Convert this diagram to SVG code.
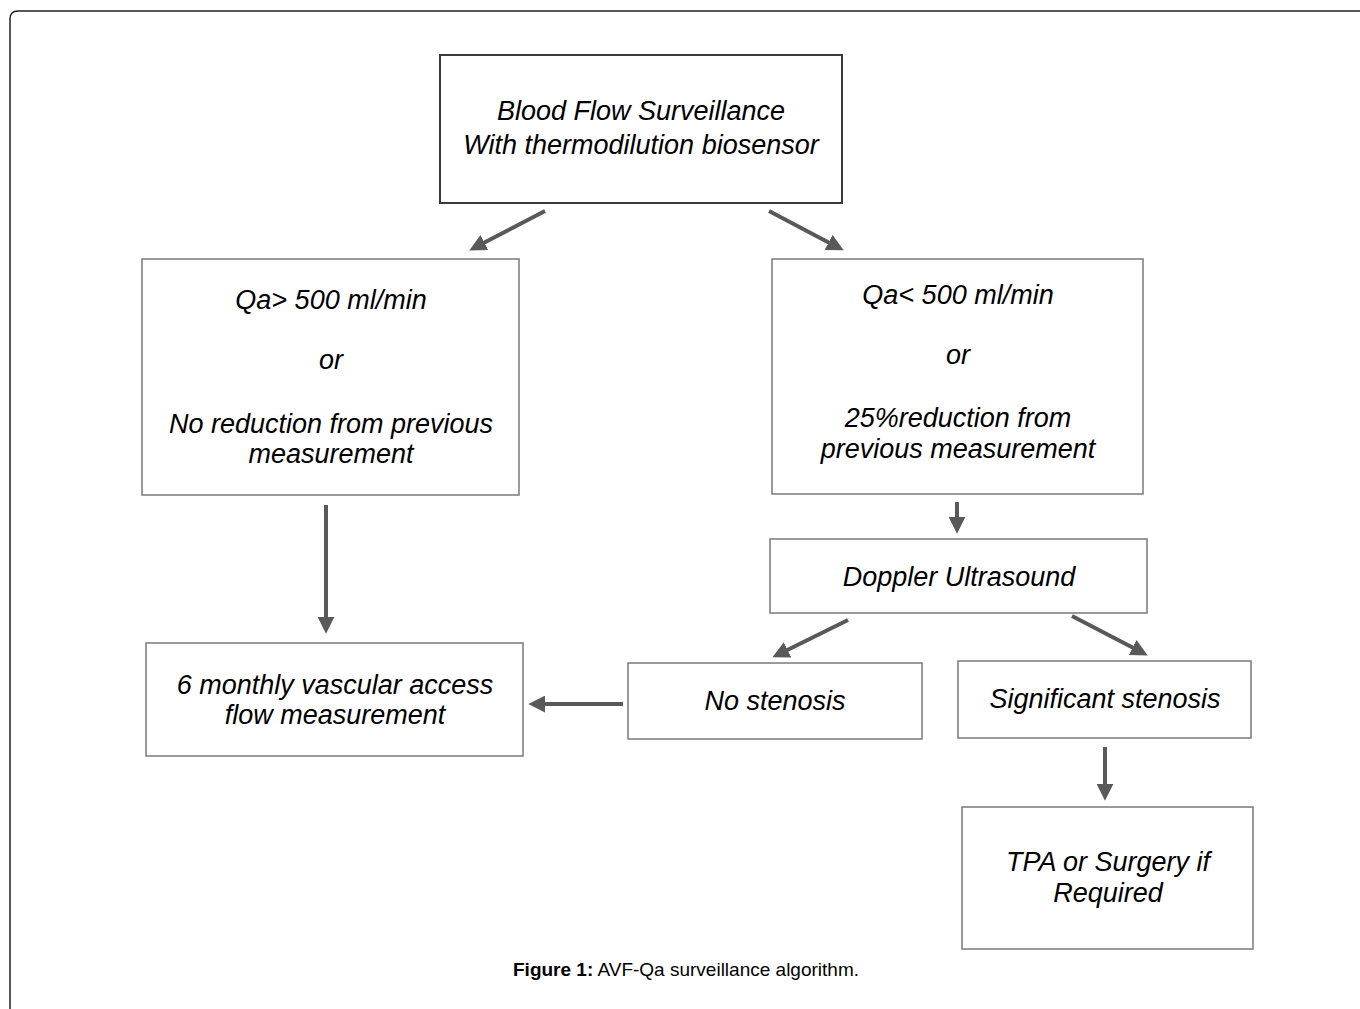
<svg xmlns="http://www.w3.org/2000/svg" width="1360" height="1009" viewBox="0 0 1360 1009">
<defs>
<style>
.box{fill:#fff;stroke:#7a7a7a;stroke-width:1.5}
.top{fill:#fff;stroke:#3a3a3a;stroke-width:2}
.t{font-family:"Liberation Sans",Arial,sans-serif;font-style:italic;font-size:27px;fill:#000;text-anchor:middle}
.c{stroke:#595959;stroke-width:4;fill:none;marker-end:url(#ah)}
.cap{font-family:"Liberation Sans",Arial,sans-serif;font-size:19px;fill:#000;text-anchor:middle}
</style>
<marker id="ah" viewBox="0 0 16 16" refX="4" refY="8" markerWidth="17" markerHeight="17" markerUnits="userSpaceOnUse" orient="auto">
<path d="M0,0 L16,8 L0,16 z" fill="#595959"/>
</marker>
</defs>
<rect width="1360" height="1009" fill="#fff"/>
<path d="M10,1009 V19 Q10,11 18,11 H1360" fill="none" stroke="#222" stroke-width="1.5"/>

<g id="n-top">
<rect class="top" x="440" y="55" width="402" height="148"/>
<text class="t" x="641" y="120">Blood Flow Surveillance</text>
<text class="t" x="641" y="154">With thermodilution biosensor</text>
</g>
<g id="n-left">
<rect class="box" x="142" y="259" width="377" height="236"/>
<text class="t" x="331" y="309">Qa&gt; 500 ml/min</text>
<text class="t" x="331" y="369">or</text>
<text class="t" x="331" y="433">No reduction from previous</text>
<text class="t" x="331" y="463">measurement</text>
</g>
<g id="n-right">
<rect class="box" x="772" y="259" width="371" height="235"/>
<text class="t" x="958" y="304">Qa&lt; 500 ml/min</text>
<text class="t" x="958" y="364">or</text>
<text class="t" x="958" y="427">25%reduction from</text>
<text class="t" x="958" y="458">previous measurement</text>
</g>
<g id="n-doppler">
<rect class="box" x="770" y="539" width="377" height="74"/>
<text class="t" x="959" y="586">Doppler Ultrasound</text>
</g>
<g id="n-monthly">
<rect class="box" x="146" y="643" width="377" height="113"/>
<text class="t" x="335" y="694">6 monthly vascular access</text>
<text class="t" x="335" y="724">flow measurement</text>
</g>
<g id="n-nostenosis">
<rect class="box" x="628" y="663" width="294" height="76"/>
<text class="t" x="775" y="710">No stenosis</text>
</g>
<g id="n-significant">
<rect class="box" x="958" y="661" width="293" height="77"/>
<text class="t" x="1105" y="708">Significant stenosis</text>
</g>
<g id="n-tpa">
<rect class="box" x="962" y="807" width="291" height="142"/>
<text class="t" x="1108" y="871">TPA or Surgery if</text>
<text class="t" x="1108" y="902">Required</text>
</g>

<g id="connectors">
<line class="c" x1="545" y1="211" x2="480.6" y2="244.5"/>
<line class="c" x1="769" y1="211" x2="832.4" y2="244.4"/>
<line class="c" x1="326" y1="505" x2="326" y2="621"/>
<line class="c" x1="957" y1="502" x2="957" y2="521"/>
<line class="c" x1="848" y1="620" x2="783.8" y2="651.7"/>
<line class="c" x1="1072" y1="616" x2="1136.4" y2="649.5"/>
<line class="c" x1="623" y1="704" x2="541" y2="704"/>
<line class="c" x1="1105" y1="747" x2="1105" y2="788"/>
</g>

<text class="cap" x="686" y="976"><tspan font-weight="bold">Figure 1:</tspan> AVF-Qa surveillance algorithm.</text>
</svg>
